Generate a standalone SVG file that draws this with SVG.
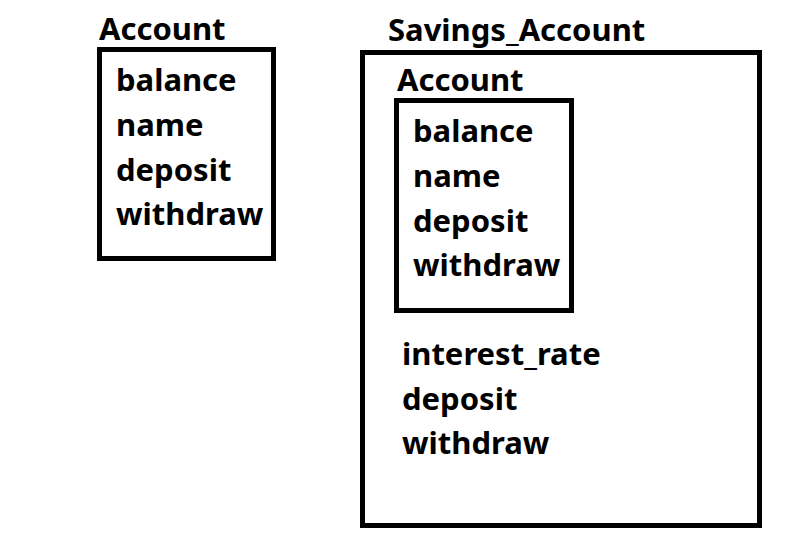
<svg xmlns="http://www.w3.org/2000/svg" width="805" height="548" viewBox="0 0 805 548">
<style>
text{font-family:"Noto Sans","Open Sans","DejaVu Sans",sans-serif;font-weight:bold;font-size:31px;fill:#000}
.box{fill:none;stroke:#000;stroke-width:5}
</style>
<rect width="805" height="548" fill="#fff"/>
<g id="account">
<text x="99" y="40">Account</text>
<rect class="box" x="99.5" y="49.5" width="174" height="209"/>
<text x="116" y="91">balance</text>
<text x="116" y="136">name</text>
<text x="116" y="181">deposit</text>
<text x="116" y="225">withdraw</text>
</g>
<g id="savings_account">
<text x="388" y="41">Savings_Account</text>
<rect class="box" x="362.5" y="52.5" width="397" height="473"/>
<text x="402" y="365">interest_rate</text>
<text x="402" y="410">deposit</text>
<text x="402" y="454">withdraw</text>
</g>
<g id="inner_account">
<text x="397" y="91">Account</text>
<rect class="box" x="396.5" y="100.5" width="175" height="210"/>
<text x="413" y="142">balance</text>
<text x="413" y="187">name</text>
<text x="413" y="232">deposit</text>
<text x="413" y="276">withdraw</text>
</g>
<g id="connectors"></g>
</svg>
